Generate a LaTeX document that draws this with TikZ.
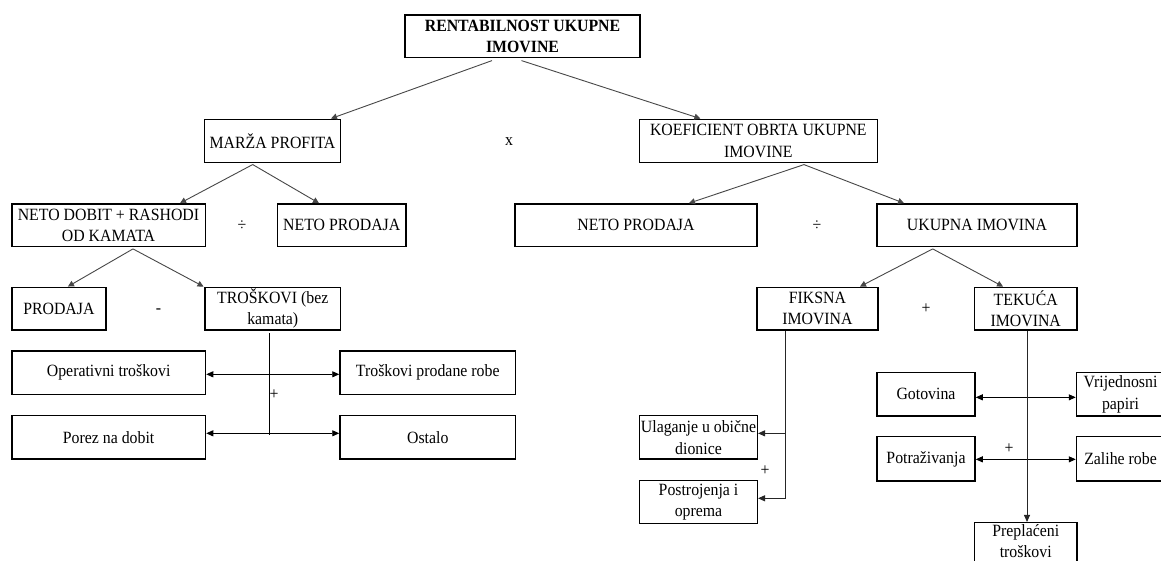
\documentclass[tikz,border=0pt]{standalone}
\usepackage{fontspec}
\setmainfont{Liberation Serif}[FakeStretch=0.92]
\usetikzlibrary{arrows.meta}
\newcommand\fsz{\fontsize{17.2pt}{21.5pt}\selectfont}
\begin{document}
\begin{tikzpicture}[x=1pt,y=-1pt,
  box/.style={draw=black, line width=1.5pt, inner sep=0pt, align=center, font=\fsz, minimum height=43pt},
  conn/.style={draw=black!72, line width=0.9pt, -{Triangle[length=6pt,width=6pt]}},
  rarr/.style={draw=black!85, line width=0.9pt, -{Triangle[length=7pt,width=6pt]}},
  harr/.style={draw=black, line width=0.9pt, {Triangle[length=7pt,width=6pt]}-{Triangle[length=7pt,width=6pt]}},
  plain/.style={draw=black, line width=0.9pt},
  lbl/.style={inner sep=0pt, font=\fsz}
  ]
\useasboundingbox (0,0) rectangle (1161,561);
\fill[white] (0,0) rectangle (1161,561);

% level 0
\node[box, minimum width=235pt, minimum height=42.3pt, font=\fsz\bfseries] (top) at (522.5,36.2) {RENTABILNOST UKUPNE\\IMOVINE};
% level 1
\node[box, minimum width=135.8pt] (marza) at (272.5,140.8) {MARŽA PROFITA};
\node[box, minimum width=238pt] (koef) at (758.35,140.85) {KOEFICIENT OBRTA UKUPNE\\IMOVINE};
\node[lbl] (xop) at (509,141.7) {x};
% level 2
\node[box, minimum width=193.5pt, minimum height=42.7pt] (ndob) at (108.5,225.3) {NETO DOBIT + RASHODI\\OD KAMATA};
\node[box, minimum width=128.5pt, minimum height=42.7pt] (npl) at (341.75,225.3) {NETO PRODAJA};
\node[box, minimum width=242pt, minimum height=42.7pt] (npr) at (636,225.3) {NETO PRODAJA};
\node[box, minimum width=200pt, minimum height=42.7pt] (ukim) at (977,225.3) {UKUPNA IMOVINA};
\node[lbl] (div1) at (242,225.7) {÷};
\node[lbl] (div2) at (817,225.7) {÷};
% level 3
\node[box, minimum width=94.2pt, minimum height=42.7pt] (prod) at (58.9,308.65) {PRODAJA};
\node[box, minimum width=135.9pt, minimum height=42.7pt] (tros) at (272.75,308.65) {TROŠKOVI (bez\\kamata)};
\node[box, minimum width=120.8pt, minimum height=42.7pt] (fik) at (817.4,308.65) {FIKSNA\\IMOVINA};
\node[box, minimum width=102.5pt, minimum height=42.7pt] (tek) at (1025.75,308.65) {TEKUĆA\\IMOVINA};
\node[lbl] (minus) at (158.5,310.7) {-};
\node[lbl] (plus1) at (926,309) {+};
% level 4 left
\node[box, minimum width=193.7pt, minimum height=43.3pt] (oper) at (108.65,372.65) {Operativni troškovi};
\node[box, minimum width=175.5pt, minimum height=43.3pt] (tpr) at (427.75,372.65) {Troškovi prodane robe};
\node[box, minimum width=193.7pt, minimum height=43.3pt] (porez) at (108.65,437.35) {Porez na dobit};
\node[box, minimum width=175.5pt, minimum height=43.3pt] (ost) at (427.75,437.35) {Ostalo};
\node[lbl] (plus2) at (274,395) {+};
% level 4 right
\node[box, minimum width=117.6pt, minimum height=43.3pt] (ula) at (698.5,437.35) {Ulaganje u obične\\dionice};
\node[box, minimum width=117.6pt, minimum height=42.6pt] (post) at (698.5,502) {Postrojenja i\\oprema};
\node[lbl] (plus3) at (765,470.7) {+};
\node[box, minimum width=98pt, minimum height=43.3pt] (got) at (926,394.35) {Gotovina};
\node[box, minimum width=88pt, minimum height=43.3pt] (vrij) at (1120.5,394.35) {Vrijednosni\\papiri};
\node[box, minimum width=98pt, minimum height=44.3pt] (potr) at (926,458.85) {Potraživanja};
\node[box, minimum width=88pt, minimum height=44.3pt] (zal) at (1120.5,458.85) {Zalihe robe};
\node[lbl] (plus4) at (1009,448.3) {+};
\node[box, minimum width=102.5pt, minimum height=43.3pt, text depth=7pt] (prep) at (1025.75,544.35) {Preplaćeni\\troškovi};

% connectors top part
\draw[conn] ([xshift=-30.5pt,yshift=-2.5pt]top.south) -- ([xshift=58.5pt]marza.north);
\draw[conn] ([xshift=-1pt,yshift=-2.5pt]top.south) -- ([xshift=-58pt]koef.north);
\draw[conn] ([xshift=-19.8pt,yshift=-1.5pt]marza.south) -- ([xshift=71.5pt]ndob.north);
\draw[conn] ([xshift=-19.8pt,yshift=-1.5pt]marza.south) -- ([xshift=-22.75pt]npl.north);
\draw[conn] ([xshift=45.65pt,yshift=-1.5pt]koef.south) -- ([xshift=53pt]npr.north);
\draw[conn] ([xshift=45.65pt,yshift=-1.5pt]koef.south) -- ([xshift=-73pt]ukim.north);
\draw[conn] ([xshift=24.5pt,yshift=-1.5pt]ndob.south) -- ([xshift=9pt]prod.north);
\draw[conn] ([xshift=24.5pt,yshift=-1.5pt]ndob.south) -- ([xshift=-69.25pt]tros.north);
\draw[conn] ([xshift=-44.3pt,yshift=-1.5pt]ukim.south) -- ([xshift=42.6pt]fik.north);
\draw[conn] ([xshift=-44.3pt,yshift=-1.5pt]ukim.south) -- ([xshift=-22.75pt]tek.north);

% troskovi breakdown
\coordinate (vt) at ([xshift=-3.15pt,yshift=-2.7pt]tros.south);
\coordinate (h1) at (269.6,374.3);
\coordinate (h2) at (269.6,433.3);
\coordinate (vb) at (269.6,435);
\draw[plain] (vt) -- (vb);
\draw[harr] (oper.east |- h1) -- (tpr.west |- h1);
\draw[harr] (porez.east |- h2) -- (ost.west |- h2);

% fiksna breakdown
\coordinate (fv) at ([xshift=-32.4pt]fik.south);
\coordinate (ua) at ([yshift=4pt]ula.east);
\coordinate (pa) at ([yshift=3.7pt]post.east);
\draw[rarr] (fv) |- (pa);
\draw[rarr] (fv |- ua) -- (ua);

% tekuca breakdown
\coordinate (g1) at ([yshift=-3pt]got.east);
\coordinate (p1) at ([yshift=-0.5pt]potr.east);
\draw[harr] (g1) -- (g1 -| vrij.west);
\draw[harr] (p1) -- (p1 -| zal.west);
\draw[rarr] ([xshift=1.25pt]tek.south) -- ([xshift=1.25pt]prep.north);
\end{tikzpicture}
\end{document}
